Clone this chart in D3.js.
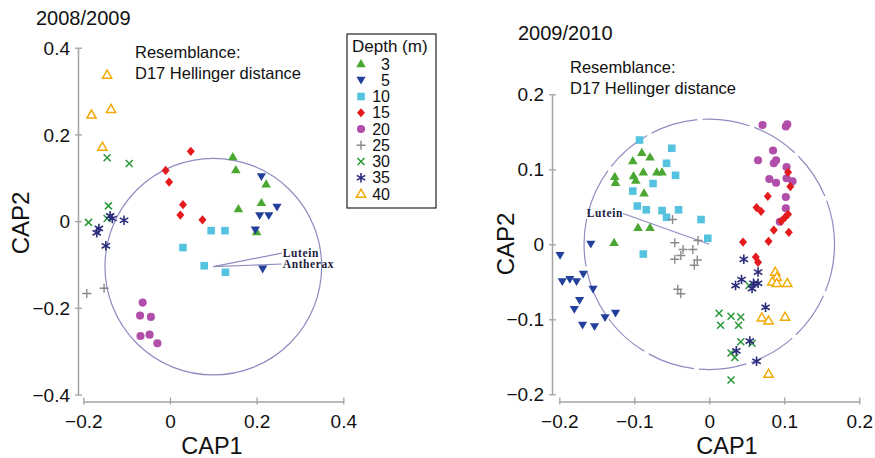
<!DOCTYPE html>
<html>
<head>
<meta charset="utf-8">
<script src="https://cdn.jsdelivr.net/npm/d3@7"></script>
<style>
  body { margin: 0; background: #fff; }
  svg text { font-family: "Liberation Sans", Arial, Helvetica, sans-serif; fill: #111; }
</style>
</head>
<body>
<svg id="chart" width="875" height="458"></svg>
<script>
// depth classes (m) shown in legend
const depths = [3, 5, 10, 15, 20, 25, 30, 35, 40];

// tick values
const ticks0809x = [-0.2, 0, 0.2, 0.4];
const ticks0809y = [-0.4, -0.2, 0, 0.2, 0.4];
const ticks0910x = [-0.2, -0.1, 0, 0.1, 0.2];
const ticks0910y = [-0.2, -0.1, 0, 0.1, 0.2];

// [depth, CAP1, CAP2], 2008/2009
const points0809 = [
  [3, 0.145, 0.148], [3, 0.152, 0.118], [3, 0.222, 0.085], [3, 0.211, 0.042], [3, 0.158, 0.028], [3, 0.200, -0.025],
  [5, 0.211, 0.102], [5, 0.247, 0.032], [5, 0.207, 0.012], [5, 0.228, 0.012], [5, 0.197, -0.021], [5, 0.214, -0.111],
  [10, 0.095, -0.022], [10, 0.127, -0.022], [10, 0.030, -0.061], [10, 0.079, -0.103], [10, 0.128, -0.118],
  [15, 0.048, 0.161], [15, -0.010, 0.117], [15, -0.002, 0.090], [15, 0.030, 0.038], [15, 0.024, 0.014], [15, 0.075, 0.003],
  [20, -0.063, -0.188], [20, -0.069, -0.218], [20, -0.044, -0.221], [20, -0.068, -0.265], [20, -0.047, -0.262], [20, -0.029, -0.282],
  [25, -0.192, -0.167], [25, -0.152, -0.155],
  [30, -0.145, 0.146], [30, -0.094, 0.133], [30, -0.142, 0.035], [30, -0.145, 0.006], [30, -0.188, -0.003],
  [35, -0.138, 0.012], [35, -0.133, 0.006], [35, -0.106, 0.002], [35, -0.164, -0.017], [35, -0.169, -0.027], [35, -0.148, -0.057],
  [40, -0.145, 0.337], [40, -0.181, 0.245], [40, -0.136, 0.258], [40, -0.156, 0.171]
];

// [depth, CAP1, CAP2], 2009/2010
const points0910 = [
  [5, -0.199, -0.015], [5, -0.158, 0.0], [5, -0.196, -0.050], [5, -0.186, -0.047], [5, -0.177, -0.050], [5, -0.168, -0.040],
  [5, -0.155, -0.060], [5, -0.173, -0.075], [5, -0.180, -0.087], [5, -0.169, -0.108], [5, -0.153, -0.110], [5, -0.139, -0.098], [5, -0.125, -0.092],
  [3, -0.090, 0.122], [3, -0.102, 0.111], [3, -0.079, 0.116], [3, -0.126, 0.090], [3, -0.125, 0.082], [3, -0.101, 0.091], [3, -0.098, 0.085],
  [3, -0.088, 0.096], [3, -0.070, 0.096], [3, -0.063, 0.096], [3, -0.087, 0.068], [3, -0.095, 0.022], [3, -0.079, 0.022], [3, -0.127, 0.002],
  [10, -0.093, 0.139], [10, -0.050, 0.128], [10, -0.057, 0.108], [10, -0.045, 0.092], [10, -0.075, 0.081], [10, -0.102, 0.071], [10, -0.096, 0.051],
  [10, -0.084, 0.046], [10, -0.063, 0.045], [10, -0.057, 0.036], [10, -0.041, 0.046], [10, -0.011, 0.033], [10, -0.002, 0.008], [10, -0.088, -0.013],
  [25, -0.049, 0.033], [25, -0.015, 0.005], [25, -0.046, 0.002], [25, -0.035, -0.007], [25, -0.038, -0.015], [25, -0.022, -0.007],
  [25, -0.046, -0.020], [25, -0.016, -0.021], [25, -0.020, -0.028], [25, -0.042, -0.060], [25, -0.038, -0.066],
  [20, 0.071, 0.159], [20, 0.102, 0.157], [20, 0.104, 0.160], [20, 0.085, 0.125], [20, 0.065, 0.112], [20, 0.089, 0.112], [20, 0.086, 0.108],
  [20, 0.103, 0.103], [20, 0.080, 0.087], [20, 0.089, 0.082], [20, 0.103, 0.088], [20, 0.111, 0.084], [20, 0.102, 0.063], [20, 0.102, 0.048], [20, 0.094, 0.030],
  [15, 0.105, 0.096], [15, 0.108, 0.077], [15, 0.078, 0.064], [15, 0.063, 0.049], [15, 0.069, 0.044], [15, 0.105, 0.040], [15, 0.101, 0.036],
  [15, 0.096, 0.031], [15, 0.086, 0.019], [15, 0.106, 0.016], [15, 0.079, 0.004], [15, 0.045, 0.003], [15, 0.062, -0.017], [15, 0.065, -0.024],
  [40, 0.088, -0.037], [40, 0.090, -0.044], [40, 0.084, -0.050], [40, 0.090, -0.052], [40, 0.104, -0.052], [40, 0.070, -0.098], [40, 0.079, -0.102],
  [40, 0.101, -0.097], [40, 0.079, -0.173],
  [30, 0.013, -0.092], [30, 0.029, -0.096], [30, 0.042, -0.097], [30, 0.015, -0.108], [30, 0.039, -0.108], [30, 0.042, -0.130], [30, 0.057, -0.132],
  [30, 0.029, -0.145], [30, 0.034, -0.151], [30, 0.029, -0.181], [30, 0.053, -0.055],
  [35, 0.046, -0.020], [35, 0.065, -0.037], [35, 0.043, -0.047], [35, 0.035, -0.055], [35, 0.059, -0.052], [35, 0.065, -0.052], [35, 0.057, -0.059],
  [35, 0.075, -0.084], [35, 0.054, -0.129], [35, 0.036, -0.142], [35, 0.063, -0.156]
];

// pigment vectors [label, CAP1, CAP2] from circle centre
const vectors0809 = [["Lutein", 0.258, -0.074], ["Antherax", 0.258, -0.099]];
const vectors0910 = [["Lutein", -0.115, 0.041]];
// correlation circles [cx, cy, r]
const circle0809 = [0.1, -0.105, 0.25];
const circle0910 = [0, 0, 0.167];

const svg = d3.select("#chart");
const axisColor = "#a3a3a3";
const vecColor = "#8d8dc2";

// marker styles by depth
const markerStyle = {
  3:  {path: "M0,-5L4.8,3.2L-4.8,3.2Z", fill: "#4aa832", stroke: "none"},
  5:  {path: "M0,4.2L4.6,-3.6L-4.6,-3.6Z", fill: "#23409a", stroke: "none"},
  10: {path: "M-3.8,-3.8H3.8V3.8H-3.8Z", fill: "#55c3df", stroke: "none"},
  15: {path: "M0,-4.6L4,0L0,4.6L-4,0Z", fill: "#e41a1c", stroke: "none"},
  20: {path: d3.symbol(d3.symbolCircle, 52)(), fill: "#b04ea9", stroke: "none"},
  25: {path: "M-4.5,0H4.5M0,-4.5V4.5", fill: "none", stroke: "#8a8a8a", sw: 1.4},
  30: {path: "M-3.5,-3.5L3.5,3.5M-3.5,3.5L3.5,-3.5", fill: "none", stroke: "#2e9a3e", sw: 1.6},
  35: {path: "M0,-4.8V4.8M-4.2,-2.4L4.2,2.4M-4.2,2.4L4.2,-2.4", fill: "none", stroke: "#2b2d7c", sw: 1.6},
  40: {path: "M0,-4.8L4.6,3.2L-4.6,3.2Z", fill: "#fff", stroke: "#f2a900", sw: 1.5}
};

function drawMarker(sel, depth) {
  const m = markerStyle[depth];
  sel.append("path")
    .attr("d", m.path)
    .attr("fill", m.fill)
    .attr("stroke", m.stroke)
    .attr("stroke-width", m.sw || 0);
}

const fmt = d => d === 0 ? "0" : d3.format(".1f")(d).replace("-", "\u2013");

function panel(opts) {
  const x = d3.scaleLinear().domain(opts.xDomain).range(opts.xRange);
  const y = d3.scaleLinear().domain(opts.yDomain).range(opts.yRange);
  const g = svg.append("g");

  // x axis
  const gx = g.append("g")
    .attr("transform", `translate(0,${opts.xAxisY})`)
    .call(d3.axisBottom(x).tickValues(opts.xTicks).tickSize(-5).tickSizeOuter(0).tickFormat(fmt));
  gx.select(".domain").attr("stroke", axisColor).attr("stroke-width", 1.5);
  gx.selectAll(".tick line").attr("stroke", axisColor).attr("stroke-width", 1.3).attr("y1", 3).attr("y2", -4);
  gx.selectAll(".tick text").attr("y", 26).attr("dy", null)
    .attr("font-size", 19).attr("font-family", null).attr("fill", "#111");

  // y axis
  const gy = g.append("g")
    .attr("transform", `translate(${opts.yAxisX},0)`)
    .call(d3.axisLeft(y).tickValues(opts.yTicks).tickSize(0).tickSizeOuter(0).tickFormat(fmt));
  gy.select(".domain").attr("stroke", axisColor).attr("stroke-width", 1.5);
  gy.selectAll(".tick line").attr("stroke", axisColor).attr("stroke-width", 1.3).attr("x1", -3).attr("x2", 4);
  gy.selectAll(".tick text").attr("x", -8).attr("dy", "0.35em")
    .attr("font-size", 19).attr("font-family", null).attr("fill", "#111");
  g.selectAll(".tick text").style("font-family", '"Liberation Sans", Arial, Helvetica, sans-serif');

  // titles
  g.append("text").attr("x", opts.titleX).attr("y", opts.titleY).attr("font-size", 20).text(opts.title);
  g.append("text").attr("x", opts.resX).attr("y", opts.resY).attr("font-size", 16.5).text("Resemblance:");
  g.append("text").attr("x", opts.resX).attr("y", opts.resY + 21).attr("font-size", 16.5).text("D17 Hellinger distance");
  g.append("text").attr("x", opts.cap1X).attr("y", 454).attr("text-anchor", "middle")
    .attr("font-size", 23.5).text("CAP1");
  g.append("text").attr("transform", `translate(${opts.cap2X},${opts.cap2Y}) rotate(-90)`)
    .attr("text-anchor", "middle").attr("font-size", 24).text("CAP2");

  // correlation circle
  const [cx, cy, r] = opts.circle;
  g.append("circle")
    .attr("cx", x(cx)).attr("cy", y(cy)).attr("r", x(cx + r) - x(cx))
    .attr("fill", "none").attr("stroke", vecColor).attr("stroke-width", 1.2)
    .attr("stroke-dasharray", opts.dash || null);

  // vectors
  opts.vectors.forEach(([label, vx, vy]) => {
    g.append("line")
      .attr("x1", x(cx)).attr("y1", y(cy)).attr("x2", x(vx)).attr("y2", y(vy))
      .attr("stroke", vecColor).attr("stroke-width", 1.2);
    g.append("text")
      .attr("x", x(vx) + opts.labelDx).attr("y", y(vy) + 3.5)
      .attr("text-anchor", opts.labelAnchor)
      .style("font-family", '"Liberation Serif", "DejaVu Serif", serif')
      .style("letter-spacing", "0.6px")
      .attr("font-weight", "bold").attr("font-size", 11.5).style("fill", "#1c1c3c")
      .text(label);
  });

  // points
  g.append("g").selectAll("g.pt")
    .data(opts.points)
    .join("g")
    .attr("class", "pt")
    .attr("transform", d => `translate(${x(d[1])},${y(d[2])})`)
    .each(function (d) { drawMarker(d3.select(this), d[0]); });
}

panel({
  title: "2008/2009", titleX: 36, titleY: 25,
  resX: 135, resY: 58,
  xDomain: [-0.2, 0.4], xRange: [83.3, 343.3],
  yDomain: [-0.4, 0.4], yRange: [394.5, 47.7],
  xAxisY: 401.5, yAxisX: 78,
  xTicks: ticks0809x, yTicks: ticks0809y,
  cap1X: 212, cap2X: 29, cap2Y: 223,
  circle: circle0809, vectors: vectors0809,
  labelDx: 1, labelAnchor: "start",
  points: points0809
});

panel({
  title: "2009/2010", titleX: 518, titleY: 40,
  resX: 570, resY: 73,
  xDomain: [-0.2, 0.2], xRange: [559.3, 859.3],
  yDomain: [-0.2, 0.2], yRange: [394.3, 94.3],
  xAxisY: 401.5, yAxisX: 552,
  xTicks: ticks0910x, yTicks: ticks0910y,
  cap1X: 727, cap2X: 514, cap2Y: 244,
  circle: circle0910, vectors: vectors0910, dash: "48,5",
  labelDx: 0, labelAnchor: "end",
  points: points0910
});

// legend
const lg = svg.append("g");
lg.append("rect").attr("x", 347).attr("y", 34).attr("width", 89).attr("height", 174)
  .attr("fill", "#fff").attr("stroke", "#222").attr("stroke-width", 1.2);
lg.append("text").attr("x", 352).attr("y", 52).attr("font-size", 17).text("Depth (m)");
const item = lg.selectAll("g.item").data(depths).join("g")
  .attr("class", "item")
  .attr("transform", (d, i) => `translate(361,${64 + i * 16.25})`);
item.each(function (d) { drawMarker(d3.select(this), d); });
item.append("text").attr("x", 29).attr("y", 5.5).attr("text-anchor", "end")
  .attr("font-size", 16).text(d => d);
</script>
</body>
</html>
